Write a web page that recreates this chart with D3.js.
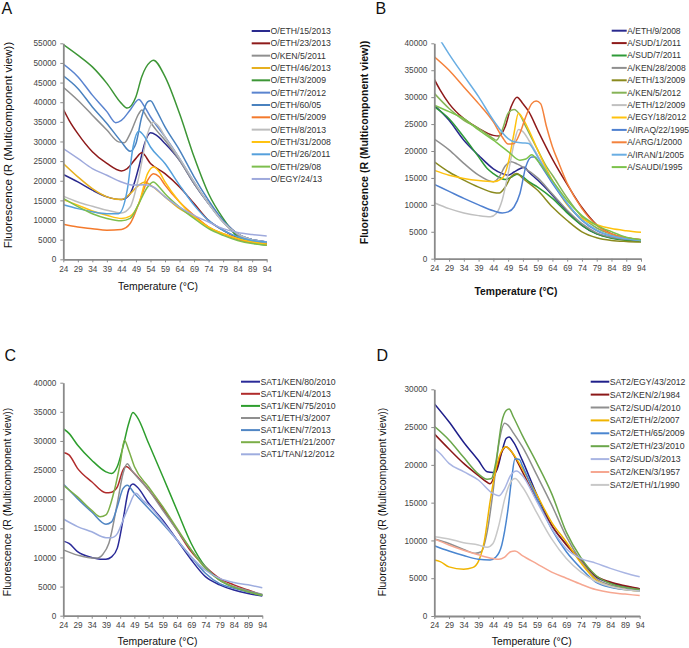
<!doctype html>
<html>
<head>
<meta charset="utf-8">
<title>melt curves</title>
<script src="https://d3js.org/d3.v7.min.js"></script>
<style>
  body { margin:0; background:#fff; }
  svg text { font-family:"Liberation Sans", Arial, sans-serif; }
</style>
</head>
<body>
<svg width="689" height="648"></svg>
<script>

// x axis tick labels (temperature, °C)
let tempTicks = [24, 29, 34, 39, 44, 49, 54, 59, 64, 69, 74, 79, 84, 89, 94];

// ---- panel A : serotype O ----
let namesA = ['O/ETH/15/2013', 'O/ETH/23/2013', 'O/KEN/5/2011', 'O/ETH/46/2013', 'O/ETH/3/2009',
              'O/ETH/7/2012', 'O/ETH/60/05', 'O/ETH/5/2009', 'O/ETH/8/2013', 'O/ETH/31/2008',
              'O/ETH/26/2011', 'O/ETH/29/08', 'O/EGY/24/13'];
let yTicksA = [0, 5000, 10000, 15000, 20000, 25000, 30000, 35000, 40000, 45000, 50000, 55000];
let valuesA = [
  [[24,21600],[29,19700],[34,17600],[39,15900],[44,15200],[47,16700],[50,23500],[52,29500],[54,32200],[56,31600],[59,29500],[64,25200],[69,19300],[74,14200],[79,9900],[84,6500],[89,5000],[94,4400]],
  [[24,38200],[26,35400],[29,32000],[34,27400],[39,24400],[44,22500],[46,23100],[49,25700],[51,27100],[54,24400],[59,21800],[64,18400],[69,14200],[74,9900],[79,7400],[84,5500],[89,4400],[94,4000]],
  [[24,43800],[29,40500],[34,36700],[39,32900],[43,29900],[45,29700],[47,32000],[50,37100],[51,38000],[53,35900],[56,32900],[59,30300],[64,25200],[69,19300],[74,14200],[79,9500],[84,6100],[89,4700],[94,4000]],
  [[24,24400],[29,21000],[34,18000],[39,15900],[44,15200],[47,16700],[50,18900],[52,19700],[54,18900],[59,15900],[64,12900],[69,10800],[74,8200],[79,6500],[84,5300],[89,4400],[94,4000]],
  [[24,54700],[29,52000],[34,49000],[39,44800],[44,39700],[46,38500],[49,41400],[51,46500],[54,50300],[55,50700],[59,46500],[64,37100],[69,26100],[74,16700],[79,10400],[84,5700],[89,4200],[94,3600]],
  [[24,49700],[29,46500],[34,41800],[39,37600],[42,34800],[44,35400],[47,38000],[50,40700],[52,38800],[54,36300],[59,31200],[64,25700],[69,19700],[74,14200],[79,9500],[84,6500],[89,5000],[94,4400]],
  [[24,46700],[29,43500],[34,38800],[39,34600],[44,29900],[47,27500],[49,29500],[51,36300],[53,40100],[54,40400],[56,38000],[59,33700],[64,27800],[69,21000],[74,15000],[79,9900],[84,6500],[89,5000],[94,4400]],
  [[24,8900],[29,8200],[34,7800],[39,7400],[44,7600],[47,9100],[50,14200],[53,20100],[55,21800],[57,21000],[59,18900],[64,14600],[69,11200],[74,8200],[79,6400],[84,5000],[89,4200],[94,3700]],
  [[24,16100],[29,14600],[34,13500],[39,12500],[44,11800],[47,13300],[50,21000],[53,32000],[55,34900],[57,33700],[59,31200],[64,25700],[69,19700],[74,14200],[79,9500],[84,6500],[89,5000],[94,4400]],
  [[24,15200],[29,13800],[34,12300],[39,11200],[44,10400],[47,11000],[50,14200],[53,21800],[55,23500],[57,22300],[59,19700],[64,14600],[69,10800],[74,8200],[79,6500],[84,5300],[89,4400],[94,3800]],
  [[24,13900],[29,12900],[34,12100],[39,11600],[43,11600],[46,17600],[48,28600],[50,32600],[52,31200],[54,28600],[59,24400],[64,18900],[69,13800],[74,9900],[79,7400],[84,5700],[89,4800],[94,4400]],
  [[24,15500],[29,13400],[34,11600],[39,10400],[44,9800],[47,10400],[50,14200],[53,18400],[55,19700],[57,18400],[59,16700],[64,13300],[69,10400],[74,7800],[79,6100],[84,4800],[89,4000],[94,3600]],
  [[24,28200],[29,25700],[34,23100],[39,21400],[44,19700],[48,18900],[52,19000],[55,18400],[59,15900],[64,13300],[69,11200],[74,9500],[79,7800],[84,6800],[89,6300],[94,5950]]
];

// ---- panel B : serotype A ----
let namesB = ['A/ETH/9/2008', 'A/SUD/1/2011', 'A/SUD/7/2011', 'A/KEN/28/2008', 'A/ETH/13/2009',
              'A/KEN/5/2012', 'A/ETH/12/2009', 'A/EGY/18/2012', 'A/IRAQ/22/1995', 'A/ARG/1/2000',
              'A/IRAN/1/2005', 'A/SAUDI/1995'];
let yTicksB = [0, 5000, 10000, 15000, 20000, 25000, 30000, 35000, 40000];
let valuesB = [
  [[24,28500],[29,25700],[34,22000],[39,19200],[44,16700],[47,15800],[49,15500],[51,16100],[53,16700],[54.5,17000],[56,16100],[59,14600],[64,11800],[69,8800],[74,6200],[79,4600],[84,3900],[89,3500],[94,3300]],
  [[24,33300],[26,31300],[29,28800],[34,26000],[39,24200],[44,22900],[46,22800],[48,24500],[50,28200],[52,30000],[54,28800],[56,27300],[59,23900],[64,18500],[69,13800],[74,9500],[79,6300],[84,4600],[89,3900],[94,3500]],
  [[24,28200],[29,26000],[34,22600],[39,18900],[42,16700],[44,15800],[46,15100],[48,14700],[50,15100],[52,15700],[54,15200],[56,14300],[59,13300],[64,11200],[69,8500],[74,6200],[79,4600],[84,3800],[89,3400],[94,3200]],
  [[24,22200],[29,20200],[34,17700],[39,15500],[42,14600],[44,14300],[46,15200],[48,17200],[50,18000],[52,17600],[54,17000],[59,15000],[64,12000],[69,9000],[74,6500],[79,4800],[84,4000],[89,3600],[94,3400]],
  [[24,18000],[29,16100],[34,14600],[39,13300],[44,12300],[46,12200],[48,13300],[50,15200],[52,15800],[54,14900],[59,12700],[64,9600],[69,7100],[74,5000],[79,3900],[84,3400],[89,3200],[94,3100]],
  [[24,30700],[29,27900],[34,25700],[39,24200],[44,22300],[45,22000],[47,23900],[49,27000],[51,27700],[53,26700],[55,24500],[59,20200],[62,17100],[64,15500],[69,11300],[74,7800],[79,5700],[84,4500],[89,3800],[94,3400]],
  [[24,10400],[29,9300],[34,8500],[39,8000],[43,7800],[45,8400],[47,10900],[49,15800],[51,21400],[52.5,24000],[54,23600],[56,22000],[59,19200],[64,14500],[69,10200],[74,7200],[79,5300],[84,4300],[89,3800],[94,3500]],
  [[24,16400],[29,15500],[34,14900],[39,14500],[44,14300],[47,14900],[49,17700],[51,23300],[52.5,27000],[54,26000],[56,23900],[59,20200],[64,14500],[69,10000],[74,7500],[79,6300],[84,5600],[89,5200],[94,4900]],
  [[24,13800],[29,12500],[34,11200],[39,10000],[44,8900],[47,8500],[49,8700],[51,9600],[53,12100],[55,17100],[57,18900],[58,18900],[60,17400],[64,14000],[69,10200],[74,7100],[79,5200],[84,4200],[89,3700],[94,3400]],
  [[24,37500],[29,35000],[34,31900],[39,28800],[44,25400],[47,22600],[49,21300],[51,21400],[53,23300],[55,26400],[57,28800],[58.5,29300],[60,28800],[62,24500],[64,20800],[66,18000],[69,14000],[74,9300],[79,6200],[84,4600],[89,3900],[94,3500]],
  [[24,42400],[29,38000],[34,34000],[39,30100],[44,25700],[49,22300],[51,21700],[54,21500],[56,21400],[57,20800],[59,18900],[64,14300],[69,10300],[74,7200],[79,5300],[84,4200],[89,3700],[94,3400]],
  [[24,28500],[29,27300],[34,26000],[39,23900],[44,22000],[49,19900],[53,18300],[55,18500],[57,19300],[59,18200],[64,14500],[69,10800],[74,8000],[79,6200],[84,5000],[89,4000],[94,3500]]
];

// ---- panel C : serotype SAT1 ----
let namesC = ['SAT1/KEN/80/2010', 'SAT1/KEN/4/2013', 'SAT1/KEN/75/2010', 'SAT1/ETH/3/2007',
              'SAT1/KEN/7/2013', 'SAT1/ETH/21/2007', 'SAT1/TAN/12/2012'];
let yTicksC = [0, 5000, 10000, 15000, 20000, 25000, 30000, 35000, 40000];
let valuesC = [
  [[24,12800],[26,12400],[29,11000],[34,10000],[37,9700],[39,9700],[41,10100],[43,11600],[45,16400],[47,21600],[48.5,22600],[50,22100],[54,19300],[59,16400],[64,13000],[69,9600],[74,6700],[79,5300],[84,4400],[89,3800],[94,3400]],
  [[24,28000],[26,27600],[29,25300],[34,23000],[39,21100],[41,21200],[43,22100],[45,25000],[46,25600],[49,24400],[54,21600],[59,18400],[64,14700],[69,11000],[74,8400],[79,6400],[84,5300],[89,4400],[94,3500]],
  [[24,32100],[26,31300],[29,29300],[34,26700],[39,24700],[41,24400],[43,25600],[45,29000],[47,33000],[48.5,34900],[50,34100],[54,29600],[59,23900],[64,18100],[69,12400],[74,8400],[79,6100],[84,4900],[89,4100],[94,3500]],
  [[24,11300],[29,10400],[34,9900],[36,9900],[38,10600],[40,12400],[43,19300],[45,24400],[46.5,26100],[48,25000],[54,21600],[59,18100],[64,14700],[69,11300],[74,8300],[79,6100],[84,5000],[89,4300],[94,3700]],
  [[24,22600],[29,20100],[34,17800],[39,15700],[41,16100],[43,18700],[45,21800],[46.5,22400],[49,21000],[54,18400],[59,15800],[64,13000],[69,10100],[74,7300],[79,5500],[84,4700],[89,4100],[94,3500]],
  [[24,22400],[29,20400],[34,18100],[37,17000],[39,17300],[42,21600],[44,26100],[45.5,30100],[47,28400],[49,25600],[54,22100],[59,18700],[64,15000],[69,11300],[74,8100],[79,6100],[84,4900],[89,4100],[94,3500]],
  [[24,16600],[29,15300],[34,14400],[39,13400],[41,13400],[43,14100],[45,16400],[47,18700],[49.5,21000],[52,19800],[54,19000],[59,16100],[64,13000],[69,10100],[74,7800],[79,6400],[84,5700],[89,5300],[94,4800]]
];

// ---- panel D : serotype SAT2 ----
let namesD = ['SAT2/EGY/43/2012', 'SAT2/KEN/2/1984', 'SAT2/SUD/4/2010', 'SAT2/ETH/2/2007',
              'SAT2/ETH/65/2009', 'SAT2/ETH/23/2010', 'SAT2/SUD/3/2013', 'SAT2/KEN/3/1957',
              'SAT2/ETH/1/1990'];
let yTicksD = [0, 5000, 10000, 15000, 20000, 25000, 30000];
let valuesD = [
  [[24,28100],[29,25700],[34,23000],[39,20600],[42,19100],[44,19000],[45,19100],[47,21700],[48.5,23500],[49.5,23700],[51,23000],[54,20600],[59,16000],[64,12000],[69,9500],[74,7300],[79,5200],[84,4400],[89,3900],[94,3600]],
  [[24,24100],[29,22100],[34,20200],[39,18600],[42,17700],[43,17500],[45,19100],[47,21700],[48.5,22400],[50,21900],[54,19100],[59,15300],[64,12000],[69,9400],[74,7400],[79,5300],[84,4500],[89,4000],[94,3600]],
  [[24,10200],[29,9600],[34,8800],[38,8300],[40,8500],[42,11100],[44,16400],[46,22800],[48,25500],[49,25300],[51,24200],[54,22400],[59,18600],[64,14700],[69,10500],[74,7300],[79,5000],[84,4100],[89,3700],[94,3400]],
  [[24,7400],[26,7200],[29,6500],[34,6200],[37,6400],[39,7200],[41,9800],[43,15100],[45,19500],[47,21900],[48.5,22400],[50,21900],[54,19500],[59,16000],[64,12400],[69,9800],[74,7000],[79,4800],[84,3900],[89,3500],[94,3300]],
  [[24,9300],[29,8600],[34,8000],[39,7500],[43,7400],[45,7800],[47,9400],[49,13800],[50.5,18600],[51.5,20800],[53,20700],[54,19900],[59,15500],[64,11500],[69,8500],[74,6300],[79,4500],[84,3800],[89,3500],[94,3300]],
  [[24,25100],[29,23300],[34,21000],[39,18800],[42,18100],[43.5,18200],[45,20400],[47,25700],[48.5,27200],[49.5,27400],[51,26300],[54,23900],[59,20200],[64,16200],[69,11100],[74,7700],[79,5400],[84,4300],[89,3800],[94,3500]],
  [[24,22200],[26,21500],[29,20200],[34,19100],[39,18000],[44,16200],[46,15900],[48,16900],[50,18600],[52,19200],[54,18600],[59,15100],[64,11600],[69,8900],[74,7600],[79,7000],[84,6300],[89,5700],[94,5200]],
  [[24,10200],[29,9400],[34,8700],[39,8100],[44,7600],[46,7500],[48,7800],[50,8500],[51.5,8600],[54,8000],[59,6900],[64,5800],[69,5000],[74,4200],[79,3500],[84,3100],[89,2900],[94,2700]],
  [[24,10500],[29,10200],[34,9700],[39,9400],[42,9100],[44,9600],[46,12000],[48,15500],[50,17700],[51.5,18200],[54,17100],[59,13600],[64,10200],[69,7600],[74,5800],[79,4600],[84,3900],[89,3500],[94,3300]]
];

// line colours, same order as the legends
let coloursA = ['#2a2a8e', '#8e1a1a', '#8f8f8f', '#e6b020', '#3d9636', '#5a84cf', '#4a82bf',
                '#f47a2c', '#bdbdbd', '#ffc20e', '#55a0dc', '#7dbe4e', '#9ea9dc'];
let coloursB = ['#2a2a8e', '#8e1a1a', '#2e9a38', '#8f8f8f', '#8a8a1e', '#86b357', '#c0c0c0',
                '#ffc20e', '#4f80d0', '#f4823c', '#6aaee3', '#7cc24b'];
let coloursC = ['#2a2a98', '#b02b2b', '#2e9e2e', '#8f8f8f', '#5186c4', '#7bae48', '#9eaddf'];
let coloursD = ['#1f1f8a', '#8b1818', '#8f8f8f', '#f0b400', '#4a86d0', '#6aa64a', '#a9b5e3',
                '#f6a791', '#c8c8c8'];

// legend: [line start x, first row y, row step, line length]
let panels = [
  { id:'A', names:namesA, values:valuesA, colours:coloursA, yTicks:yTicksA,
    x0:63.3, x1:266.7, yb:259.3, yt:43.3, bold:false,
    letter:[1.5, 13.5], legend:[251.7, 31, 12.33, 18.3], xTitle:[158, 290], yTitle:[7.5, 145, 11.5] },
  { id:'B', names:namesB, values:valuesB, colours:coloursB, yTicks:yTicksB,
    x0:434.3, x1:641, yb:258.7, yt:43.3, bold:true,
    letter:[375.5, 13.5], legend:[611.7, 30.7, 12.4, 15], xTitle:[516, 294.5], yTitle:[364, 142.5, 10.6] },
  { id:'C', names:namesC, values:valuesC, colours:coloursC, yTicks:yTicksC,
    x0:63.3, x1:262.3, yb:615.7, yt:382.7, bold:false,
    letter:[4.5, 360.5], legend:[241, 381.7, 12.1, 19], xTitle:[157.5, 645], yTitle:[7.5, 502, 10.5] },
  { id:'D', names:namesD, values:valuesD, colours:coloursD, yTicks:yTicksD,
    x0:434.3, x1:639.7, yb:616, yt:389.3, bold:false,
    letter:[376.5, 360.5], legend:[590.7, 381.7, 12.9, 18.6], xTitle:[531.7, 645], yTitle:[382.5, 502, 10.5] }
];

let svg = d3.select('svg');

panels.forEach(function(p) {
  let g = svg.append('g');

  let x = d3.scaleLinear().domain([24, 94]).range([p.x0, p.x1]);
  let y = d3.scaleLinear().domain([0, d3.max(p.yTicks)]).range([p.yb, p.yt]);

  // clip to plot area (A/IRAN/1/2005 runs off the top in B)
  svg.append('clipPath').attr('id', 'clip' + p.id)
     .append('rect')
     .attr('x', p.x0).attr('y', p.yt - 1)
     .attr('width', p.x1 - p.x0 + 2).attr('height', p.yb - p.yt + 1);

  let line = d3.line()
               .x(function(d) { return x(d[0]); })
               .y(function(d) { return y(d[1]); })
               .curve(d3.curveMonotoneX);

  g.append('g').attr('clip-path', 'url(#clip' + p.id + ')')
   .selectAll('path')
   .data(p.values)
   .enter()
   .append('path')
   .attr('d', line)
   .attr('fill', 'none')
   .attr('stroke', function(d, i) { return p.colours[i]; })
   .attr('stroke-width', 1.5)
   .attr('stroke-linejoin', 'round');

  // axes
  let xAxis = g.append('g')
               .attr('transform', 'translate(0,' + p.yb + ')')
               .call(d3.axisBottom(x).tickValues(tempTicks).tickSize(3).tickSizeOuter(0).tickPadding(3.5));
  let yAxis = g.append('g')
               .attr('transform', 'translate(' + p.x0 + ',0)')
               .call(d3.axisLeft(y).tickValues(p.yTicks).tickSize(3).tickSizeOuter(0).tickPadding(4)
                       .tickFormat(d3.format('d')));
  [xAxis, yAxis].forEach(function(a) {
    a.select('.domain').attr('stroke', '#8a8a8a').attr('stroke-width', 1.8);
    a.selectAll('.tick line').attr('stroke', '#8a8a8a').attr('stroke-width', 1);
    a.selectAll('text').attr('fill', '#444').style('font-size', '8.2px')
     .style('font-family', '"Liberation Sans", Arial, sans-serif');
  });

  // titles
  g.append('text')
   .attr('x', p.xTitle[0]).attr('y', p.xTitle[1])
   .attr('text-anchor', 'middle')
   .style('font-size', p.bold ? '10.3px' : '10.4px')
   .style('font-weight', p.bold ? 'bold' : 'normal')
   .attr('fill', '#111')
   .text('Temperature (°C)');

  g.append('text')
   .attr('transform', 'translate(' + p.yTitle[0] + ',' + p.yTitle[1] + ') rotate(-90)')
   .attr('text-anchor', 'middle')
   .attr('dy', '0.35em')
   .style('font-size', p.yTitle[2] + 'px')
   .style('font-weight', p.bold ? 'bold' : 'normal')
   .attr('fill', '#111')
   .text('Fluorescence (R (Multicomponent view))');

  g.append('text')
   .attr('x', p.letter[0]).attr('y', p.letter[1])
   .style('font-size', '16px')
   .attr('fill', '#111')
   .text(p.id);

  // legend
  let leg = g.selectAll('.leg')
             .data(p.names)
             .enter()
             .append('g')
             .attr('transform', function(d, i) {
                 return 'translate(' + p.legend[0] + ',' + (p.legend[1] + i * p.legend[2]) + ')';
             });
  leg.append('line')
     .attr('x1', 0).attr('x2', p.legend[3])
     .attr('stroke', function(d, i) { return p.colours[i]; })
     .attr('stroke-width', 2);
  leg.append('text')
     .attr('x', p.legend[3] + 0.5).attr('dy', '0.35em')
     .style('font-size', p.id == 'B' ? '8.5px' : '8.7px')
     .attr('fill', '#333')
     .text(function(d) { return d; });
});

</script>
